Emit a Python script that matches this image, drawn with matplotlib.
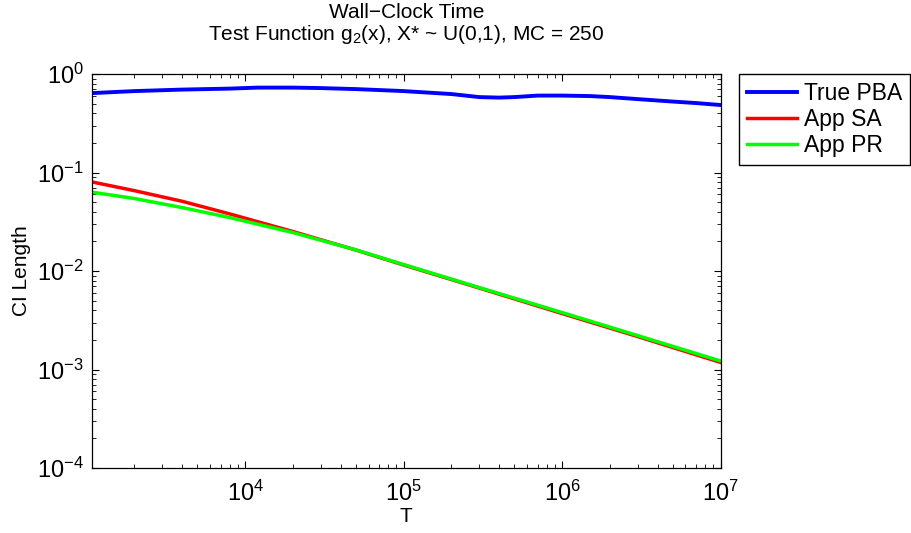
import numpy as np
import matplotlib
matplotlib.use('Agg')
import matplotlib.pyplot as plt

plt.rcParams['font.family'] = ['Liberation Sans', 'DejaVu Sans']
plt.rcParams['mathtext.default'] = 'regular'
plt.rcParams['font.size'] = 15

# data
T_pba = [1080, 2000, 4000, 8000, 1.2e4, 2e4, 3e4, 5e4, 1e5, 2e5, 3e5,
         4e5, 5e5, 7e5, 1e6, 1.5e6, 2e6, 3e6, 5e6, 7e6, 1e7]
true_pba = [0.641, 0.672, 0.696, 0.712, 0.729, 0.729, 0.721, 0.704, 0.672,
            0.627, 0.584, 0.577, 0.584, 0.605, 0.605, 0.598, 0.584, 0.557,
            0.526, 0.508, 0.485]

T_app = [1080, 2000, 4000, 8000, 2e4, 5e4, 1e5, 3e5, 1e6, 3e6, 1e7]
app_sa = [0.0803, 0.0655, 0.0511, 0.0380, 0.0252, 0.01633, 0.01151,
          0.00672, 0.00370, 0.00216, 0.00118]
app_pr = [0.0632, 0.0545, 0.0441, 0.0349, 0.0246, 0.0164, 0.01164,
          0.00680, 0.00379, 0.00221, 0.00122]

fig = plt.figure(figsize=(9.11, 5.33), dpi=100)
ax = fig.add_axes([0.101, 0.122, 0.690, 0.739])

ax.plot(T_pba, true_pba, color=(0, 0, 1), lw=2.8, label='True PBA')
ax.plot(T_app, app_sa, color=(1, 0, 0), lw=2.5, label='App SA')
ax.plot(T_app, app_pr, color=(0, 1, 0), lw=2.5, label='App PR')

ax.set_xscale('log')
ax.set_yscale('log')
ax.set_xlim(1080, 1e7)
ax.set_ylim(1e-4, 1)
ax.set_xticks([1e4, 1e5, 1e6, 1e7])
ax.set_yticks([1e-4, 1e-3, 1e-2, 1e-1, 1])

ax.tick_params(which='both', direction='in', top=True, right=True)
ax.tick_params(which='major', length=5, width=0.8, pad=6, labelsize=17)
ax.tick_params(axis='x', which='major', pad=9)
ax.tick_params(which='minor', length=3, width=0.6)
for s in ax.spines.values():
    s.set_linewidth(0.9)

ax.set_xlabel('T', labelpad=1, fontsize=15)
ax.set_ylabel('CI Length', labelpad=4, fontsize=15)
fig.text(406.5 / 911, 1 - 3 / 533,
         'Wall\u2212Clock Time\nTest Function g$_2$(x), X* ~ U(0,1), MC = 250',
         ha='center', va='top', fontsize=15, linespacing=1.05,
         multialignment='center')

fig.legend(loc='upper left', bbox_to_anchor=(739 / 911, 1 - 74 / 533),
           frameon=True, fancybox=False, edgecolor='black', framealpha=1,
           borderaxespad=0, handlelength=2.2, handletextpad=0.27,
           labelspacing=0.13, borderpad=0.35, fontsize=16.5)

fig.savefig('out.png', dpi=100)
